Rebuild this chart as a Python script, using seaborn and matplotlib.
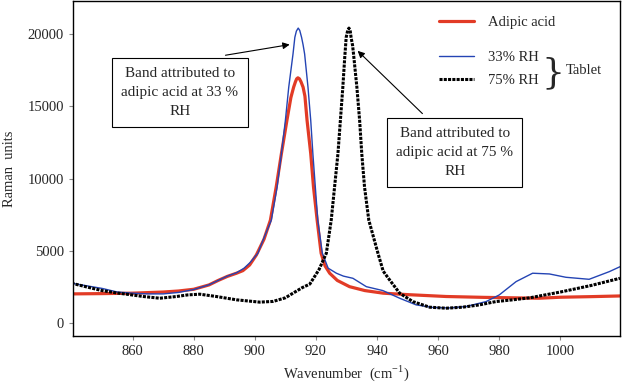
import matplotlib

matplotlib.use("Agg")
import matplotlib.pyplot as plt
from matplotlib.lines import Line2D
import seaborn as sns

# --- data (wavenumber cm-1, Raman units) ---
adipic_x = [840, 850, 860, 865, 870, 875, 880, 885, 888, 891, 894, 896.1, 898.3,
            900.5, 903, 905.1, 907.0, 908.7, 910.5, 911.8, 912.7, 913.3, 913.7,
            914.1, 914.6, 915.1, 915.8, 916.4, 917.1, 918.3, 919.2, 920.4, 921.7,
            923, 924.5, 927, 931, 936, 942, 950, 962.6, 975, 993, 1000, 1010, 1020]
adipic_y = [2020, 2040, 2070, 2110, 2150, 2220, 2340, 2640, 2950, 3230, 3450, 3630,
            4020, 4710, 5800, 7120, 9420, 11720, 14020, 15600, 16320, 16700, 16900,
            16970, 16900, 16700, 16320, 15700, 14020, 11720, 9420, 7120, 4830,
            3950, 3450, 2950, 2520, 2250, 2070, 1970, 1840, 1780, 1720, 1790, 1830,
            1880]

rh33_x = [840, 845, 850, 855, 860, 865, 870, 875, 880, 885, 888, 891, 894, 896.5,
          898.5, 901.0, 903, 905.4, 907.3, 908.7, 910.0, 911.1, 912.5, 913.1,
          913.6, 914.2, 914.7, 915.3, 915.8, 916.3, 917.4, 918.3, 919.0, 919.8,
          920.6, 922.1, 924, 926.7, 929, 932.1, 936.5, 941.9, 947.4, 952.8, 958.3,
          963.7, 969.2, 975.7, 980, 985.5, 990.9, 996.4, 1001.8, 1009.4, 1016,
          1019.5]
rh33_y = [2760, 2580, 2400, 2150, 2070, 2020, 2020, 2120, 2320, 2650, 2950, 3250,
          3480, 3800, 4200, 4830, 5900, 7120, 9420, 11720, 14020, 16320, 18620,
          19770, 20200, 20410, 20250, 19770, 19250, 18620, 16320, 14020, 11720,
          9420, 7120, 4830, 3800, 3450, 3250, 3100, 2520, 2250, 1720, 1260, 1080,
          1050, 1150, 1490, 1950, 2870, 3450, 3400, 3170, 3030, 3560, 3900]

rh75_x = [840, 845, 850, 855, 858, 863.5, 868.9, 874.4, 878, 882, 887.4, 894,
          901.6, 906, 910, 912.5, 915.5, 918, 921, 923.4, 925.0, 926.1, 927.2,
          928.0, 928.8, 929.4, 929.9, 930.4, 930.8, 931.2, 931.5, 932.0, 932.3,
          933.4, 934.3, 935.0, 935.9, 937.3, 940.3, 942, 944.1, 947.4, 951.7,
          957.2, 962.6, 968, 973.5, 978.9, 984.4, 990, 1000, 1010, 1019.5]
rh75_y = [2760, 2500, 2250, 2080, 2000, 1840, 1720, 1840, 1950, 2000, 1840, 1610,
          1450, 1500, 1750, 2070, 2450, 2700, 3700, 4830, 7120, 9420, 11720,
          14020, 16320, 18300, 19770, 20250, 20410, 20250, 19770, 19200, 18620,
          16320, 14020, 11720, 9420, 7120, 4830, 3600, 2990, 2070, 1490,
          1100, 1030, 1100, 1260, 1490, 1610, 1750, 2150, 2600, 3100]

x_ticks = [860, 880, 900, 920, 940, 960, 980, 1000]
y_ticks = [0, 5000, 10000, 15000, 20000]

RED = "#e23b26"
BLUE = "#2444b4"
BLACK = "#000000"
DOTS = (0, (1.0, 0.4))

sns.set_style("ticks")
plt.rcParams["font.family"] = ["Liberation Serif", "DejaVu Serif"]
plt.rcParams["mathtext.fontset"] = "custom"
plt.rcParams["mathtext.rm"] = "Liberation Serif"
plt.rcParams["font.size"] = 10

fig = plt.figure(figsize=(6.26, 3.85), dpi=100)
ax = fig.add_axes([0.1166, 0.127, 0.8738, 0.871])

sns.lineplot(x=adipic_x, y=adipic_y, color=RED, linewidth=2.3, estimator=None,
             sort=False, ax=ax)
sns.lineplot(x=rh33_x, y=rh33_y, color=BLUE, linewidth=1.0, estimator=None,
             sort=False, ax=ax)
sns.lineplot(x=rh75_x, y=rh75_y, color=BLACK, linewidth=2.2, estimator=None,
             sort=False, linestyle=DOTS, ax=ax)

ax.set_xlim(840.5, 1019.5)
ax.set_ylim(-900, 22300)
ax.set_xticks(x_ticks)
ax.set_yticks(y_ticks)
ax.tick_params(axis="both", length=3, width=0.8, color="#888888", labelsize=10.5)
for sp in ax.spines.values():
    sp.set_color("black")
    sp.set_linewidth(1.0)

ax.set_xlabel("Wavenumber  (cm$^{\\mathregular{-1}}$)", fontsize=10.5, labelpad=4)
ax.set_ylabel("Raman  units", fontsize=10.5, labelpad=8)

# legends (two groups, like the original)
leg1 = ax.legend(handles=[Line2D([], [], color=RED, lw=2.3)], labels=["Adipic acid"],
                 loc="upper left", bbox_to_anchor=(0.67, 0.955), frameon=False,
                 borderpad=0, borderaxespad=0, handlelength=2.4, handletextpad=0.9,
                 fontsize=10.5)
ax.add_artist(leg1)
ax.legend(handles=[Line2D([], [], color=BLUE, lw=1.0),
                   Line2D([], [], color=BLACK, lw=2.2, linestyle=DOTS)],
          labels=["33% RH", "75% RH"], loc="upper left", bbox_to_anchor=(0.67, 0.85),
          frameon=False, borderpad=0, borderaxespad=0, handlelength=2.4,
          handletextpad=0.9, labelspacing=0.65, fontsize=10.5)
ax.text(0.877, 0.785, "}", transform=ax.transAxes, fontsize=26, ha="center",
        va="center", family=["DejaVu Serif"], fontweight="light")
ax.text(0.9, 0.792, "Tablet", transform=ax.transAxes, fontsize=10.5, ha="left",
        va="center")

# annotation boxes with arrows
box = dict(boxstyle="square,pad=0.6", fc="white", ec="black", lw=0.8)
arrow = dict(arrowstyle="-|>", color="black", lw=0.8, mutation_scale=10)
ax.annotate("", xy=(912.3, 19300), xytext=(889.5, 18500), arrowprops=arrow)
ax.text(875.5, 15950, "Band attributed to\nadipic acid at 33 %\nRH", ha="center",
        va="center", fontsize=11, bbox=box, linespacing=1.6)
ax.annotate("", xy=(933.0, 18970), xytext=(955.5, 14360), arrowprops=arrow)
ax.text(965.4, 11800, "Band attributed to\nadipic acid at 75 %\nRH", ha="center",
        va="center", fontsize=11, bbox=box, linespacing=1.6)

fig.savefig("out.png", dpi=100)
